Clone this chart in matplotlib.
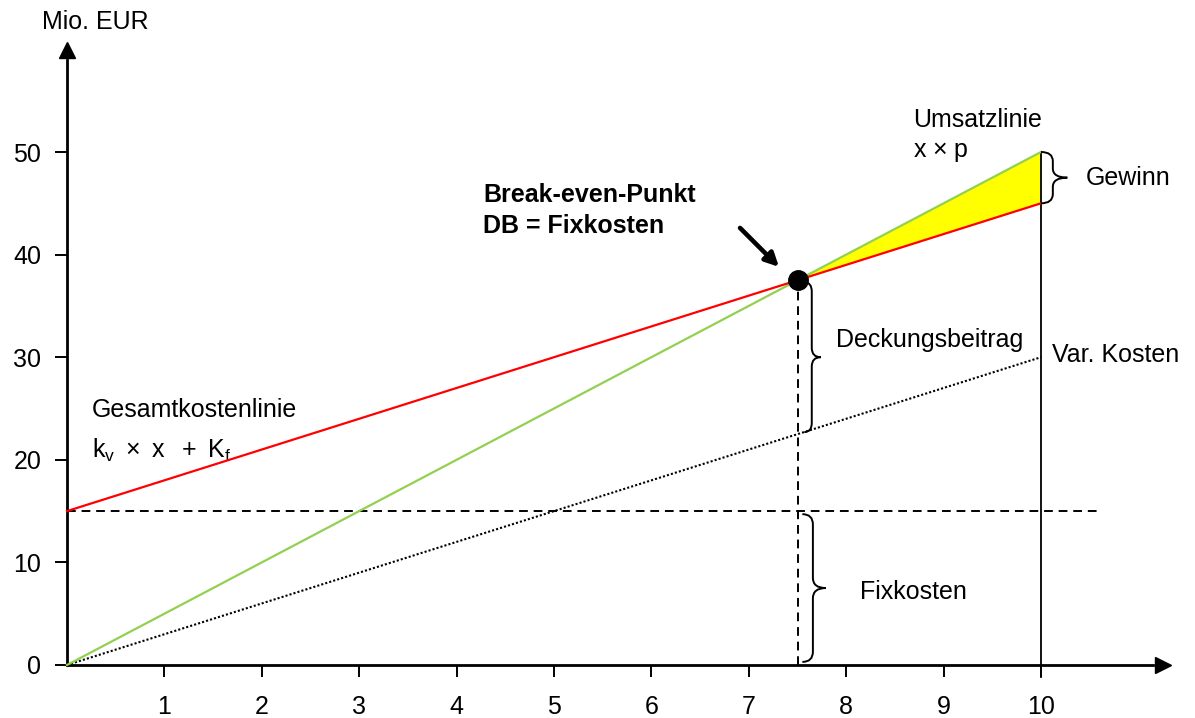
import matplotlib
matplotlib.use("Agg")
import matplotlib.pyplot as plt
from matplotlib.path import Path
from matplotlib.patches import PathPatch

plt.rcParams['font.family'] = ['Liberation Sans', 'DejaVu Sans']
plt.rcParams['mathtext.fontset'] = 'custom'
plt.rcParams['mathtext.rm'] = 'Liberation Sans'
plt.rcParams['mathtext.it'] = 'Liberation Sans'

# Data
quantity = [0, 10]
revenue = [0, 50]          # x * p
total_cost = [15, 45]      # k_v * x + K_f
variable_cost = [0, 30]    # k_v * x
fixed_cost = 15
break_even_q = 7.5
break_even_value = 37.5
profit_q = [7.5, 10]
profit_revenue = [37.5, 50]
profit_cost = [37.5, 45]
x_ticks = [1, 2, 3, 4, 5, 6, 7, 8, 9, 10]
y_ticks = [0, 10, 20, 30, 40, 50]

W, H = 1195, 718
fig = plt.figure(figsize=(W / 100, H / 100), dpi=100)
ax = fig.add_axes([0, 0, 1, 1])
ox, oy, sx, sy = 67, 665, 97.4, 10.26
ax.set_xlim(-ox / sx, (W - ox) / sx)
ax.set_ylim(-(H - oy) / sy, oy / sy)

FS = 18
GREEN = '#92D050'
RED = '#FF0000'

# axes with arrows
for s in ['top', 'right']:
    ax.spines[s].set_visible(False)
ax.spines['left'].set_position(('data', 0))
ax.spines['bottom'].set_position(('data', 0))
ax.spines['left'].set_bounds(0, 59)
ax.spines['bottom'].set_bounds(0, 11.15)
ax.spines['left'].set_linewidth(2.0)
ax.spines['bottom'].set_linewidth(2.0)
ax.plot([0], [59.9], marker='^', color='black', markersize=11, clip_on=False, zorder=6)
ax.plot([11.25], [0], marker='>', color='black', markersize=11, clip_on=False, zorder=6)

ax.set_xticks(x_ticks)
ax.set_yticks(y_ticks)
ax.set_xticklabels([str(v) for v in x_ticks])
ax.set_yticklabels([str(v) for v in y_ticks])
ax.tick_params(axis='x', direction='out', length=8.5, width=1.4, pad=13, labelsize=FS)
ax.tick_params(axis='y', direction='out', length=8.5, width=1.4, pad=10, labelsize=FS)
ax.text(0.29, 62.7, 'Mio. EUR', fontsize=FS, ha='center', va='center')

# profit area
ax.fill_between(profit_q, profit_cost, profit_revenue, color='#FFFF00', zorder=2, linewidth=0)

# lines
ax.plot(quantity, variable_cost, color='black', linestyle=(0, (1, 1.0)), linewidth=1.5, zorder=3)
ax.plot(quantity, revenue, color=GREEN, linewidth=1.6, zorder=4)
ax.plot(quantity, total_cost, color=RED, linewidth=1.6, zorder=4)

# guide lines
ax.plot([0, 10.57], [fixed_cost, fixed_cost], color='black', linestyle=(0, (4.5, 3)), linewidth=1.4, zorder=3)
ax.plot([break_even_q, break_even_q], [0, break_even_value], color='black',
        linestyle=(0, (4.5, 3)), linewidth=1.4, zorder=3)
ax.plot([quantity[1], quantity[1]], [-1.2, revenue[1]], color='black', linewidth=1.3, zorder=3)

# break-even point
ax.plot([break_even_q], [break_even_value], 'o', color='black', markersize=14, zorder=6)
ax.annotate('', xy=(7.31, 38.8), xytext=(6.91, 42.6),
            arrowprops=dict(arrowstyle='-|>', lw=3.3, color='black', mutation_scale=20,
                            shrinkA=0, shrinkB=0))
ax.text(4.27, 45.8, 'Break-even-Punkt', fontsize=FS, fontweight='bold', ha='left', va='center')
ax.text(4.27, 42.8, 'DB = Fixkosten', fontsize=FS, fontweight='bold', ha='left', va='center')


def brace(x0, y0, y1, w, r, xm_frac=0.45):
    """Curly brace opening to the left, tip pointing right."""
    xm = x0 + w * xm_frac
    ym = (y0 + y1) / 2
    verts = [(x0, y1), (xm, y1), (xm, y1 - r),
             (xm, ym + r), (xm, ym), (x0 + w, ym),
             (xm, ym), (xm, ym - r),
             (xm, y0 + r), (xm, y0), (x0, y0)]
    codes = [Path.MOVETO, Path.CURVE3, Path.CURVE3,
             Path.LINETO, Path.CURVE3, Path.CURVE3,
             Path.CURVE3, Path.CURVE3,
             Path.LINETO, Path.CURVE3, Path.CURVE3]
    ax.add_patch(PathPatch(Path(verts, codes), facecolor='none', edgecolor='black',
                           linewidth=1.4, zorder=5))


brace(7.57, 22.7, 37.3, 0.17, 0.9)
brace(7.55, 0.3, 14.7, 0.24, 1.0)
brace(10.0, 45, 50, 0.27, 0.9)

# labels
ax.text(8.69, 53.1, 'Umsatzlinie', fontsize=FS, ha='left', va='center')
ax.text(8.69, 50.0, 'x $\\times$ p', fontsize=FS, ha='left', va='center')
ax.text(10.46, 47.5, 'Gewinn', fontsize=FS, ha='left', va='center')
ax.text(7.90, 31.7, 'Deckungsbeitrag', fontsize=FS, ha='left', va='center')
ax.text(10.11, 30.2, 'Var. Kosten', fontsize=FS, ha='left', va='center')
ax.text(0.257, 24.85, 'Gesamtkostenlinie', fontsize=FS, ha='left', va='center')
ax.text(0.257, 20.9, r'$\mathregular{k_v\ \times\ x\ \ +\ K_f}$', fontsize=FS, ha='left', va='center')
ax.text(8.14, 7.1, 'Fixkosten', fontsize=FS, ha='left', va='center')

fig.savefig('out.png', dpi=100)
